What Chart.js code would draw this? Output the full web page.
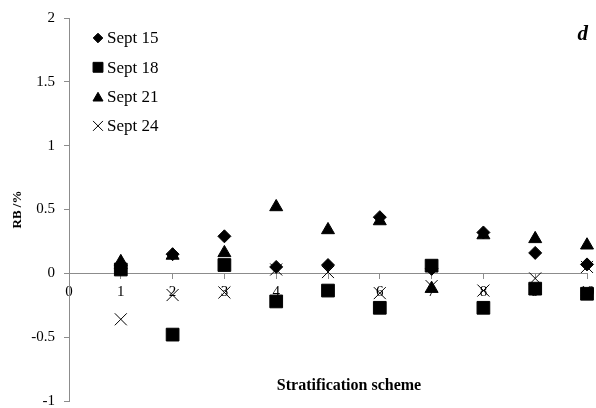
<!DOCTYPE html>
<html>
<head>
<meta charset="utf-8">
<script src="https://cdn.jsdelivr.net/npm/chart.js@4/dist/chart.umd.min.js"></script>
<style>
	html, body { margin: 0; padding: 0; background: #fff; }
	#wrap { width: 596px; height: 408px; }
</style>
</head>
<body>
<div id="wrap"><canvas id="myChart" width="596" height="408"></canvas></div>
<script>
// stratification schemes (x) and RB values per date
var schemes = [1, 2, 3, 4, 5, 6, 7, 8, 9, 10];
var sept15 = [0.04, 0.15, 0.29, 0.05, 0.065, 0.44, 0.035, 0.32, 0.16, 0.07];
var sept18 = [0.03, -0.48, 0.065, -0.22, -0.135, -0.27, 0.06, -0.27, -0.12, -0.16];
var sept21 = [0.09, 0.14, 0.16, 0.52, 0.34, 0.41, -0.12, 0.30, 0.27, 0.22];
var sept24 = [-0.36, -0.17, -0.15, 0.03, 0.01, -0.155, -0.10, -0.135, -0.04, 0.05];
var seriesNames = ['Sept 15', 'Sept 18', 'Sept 21', 'Sept 24'];
var yTicks = [-1, -0.5, 0, 0.5, 1, 1.5, 2];
var xTicks = [0, 1, 2, 3, 4, 5, 6, 7, 8, 9, 10];

var serif = '"Liberation Serif", "Times New Roman", serif';
var axisGrey = '#8c8c8c';

function pts(vals) {
	return schemes.map(function (x, i) { return {x: x, y: vals[i]}; });
}

var styles = [
	{pointStyle: 'rectRot', radius: 6.5, legendRadius: 4.8},
	{pointStyle: 'rect', radius: 9, legendRadius: 7},
	{pointStyle: 'triangle', radius: 7.5, legendRadius: 5.8},
	{pointStyle: 'crossRot', radius: 8.5, legendRadius: 7}
];
var allVals = [sept15, sept18, sept21, sept24];

var datasets = allVals.map(function (vals, i) {
	return {
		label: seriesNames[i],
		data: pts(vals),
		showLine: false,
		pointStyle: styles[i].pointStyle,
		pointRadius: styles[i].radius,
		pointBackgroundColor: '#000',
		pointBorderColor: '#000',
		pointBorderWidth: 1,
		clip: false,
		order: 4 - i
	};
});

// legend inside plot + panel letter + x title
var extras = {
	id: 'extras',
	afterDraw: function (chart) {
		var ctx = chart.ctx;
		var area = chart.chartArea;
		ctx.save();
		// legend
		ctx.font = '17px ' + serif;
		ctx.textBaseline = 'middle';
		ctx.textAlign = 'left';
		for (var i = 0; i < seriesNames.length; i++) {
			var cx = area.left + 29;
			var cy = area.top + 20 + i * 29.3;
			ctx.fillStyle = '#000';
			ctx.strokeStyle = '#000';
			ctx.lineWidth = 1;
			Chart.helpers.drawPoint(ctx, {
				pointStyle: styles[i].pointStyle,
				radius: styles[i].legendRadius,
				rotation: 0,
				borderWidth: 1
			}, cx, styles[i].pointStyle === 'triangle' ? cy + 1.5 : cy);
			ctx.fillStyle = '#000';
			ctx.fillText(seriesNames[i], cx + 9, cy + 1);
		}
		// panel letter
		ctx.font = 'italic bold 21px ' + serif;
		ctx.textAlign = 'right';
		ctx.textBaseline = 'alphabetic';
		ctx.fillText('d', area.right + 1, area.top + 22);
		// x axis title
		ctx.font = 'bold 16px ' + serif;
		ctx.textAlign = 'center';
		ctx.textBaseline = 'middle';
		ctx.fillText('Stratification scheme', (area.left + area.right) / 2 + 21, area.bottom - 15);
		ctx.restore();
	}
};

var ctx = document.getElementById('myChart').getContext('2d');
var chart = new Chart(ctx, {
	type: 'scatter',
	data: {datasets: datasets},
	options: {
		responsive: false,
		animation: false,
		events: [],
		layout: {autoPadding: false, padding: {left: 10, right: 9, top: 18, bottom: 7}},
		plugins: {
			legend: {display: false},
			tooltip: {enabled: false}
		},
		scales: {
			x: {
				type: 'linear',
				position: {y: 0},
				min: 0,
				max: 10,
				afterBuildTicks: function (scale) {
					scale.ticks = xTicks.map(function (v) { return {value: v}; });
				},
				// axis sits on y=0, so it should not eat layout space
				afterFit: function (scale) {
					scale.paddingLeft = 0;
					scale.paddingRight = 0;
					scale.height = 0;
				},
				grid: {drawOnChartArea: false, drawTicks: true, tickLength: 5, color: axisGrey},
				border: {display: true, color: axisGrey, width: 1},
				ticks: {
					color: '#000',
					font: {family: serif, size: 15, lineHeight: 1},
					padding: 6,
					maxRotation: 0,
					autoSkip: false
				}
			},
			y: {
				type: 'linear',
				min: -1,
				max: 2,
				afterBuildTicks: function (scale) {
					scale.ticks = yTicks.map(function (v) { return {value: v}; });
				},
				afterFit: function (scale) {
					scale.width = 59;
					scale.paddingTop = 0;
					scale.paddingBottom = 0;
				},
				grid: {drawOnChartArea: false, drawTicks: true, tickLength: 5, color: axisGrey},
				border: {display: true, color: axisGrey, width: 1},
				title: {
					display: true,
					text: 'RB /%',
					color: '#000',
					font: {family: serif, size: 13, weight: 'bold'},
					padding: {top: 0, bottom: 4}
				},
				ticks: {
					color: '#000',
					font: {family: serif, size: 15, lineHeight: 1},
					padding: 9,
					callback: function (v) { return String(v); }
				}
			}
		}
	},
	plugins: [extras]
});
</script>
</body>
</html>
